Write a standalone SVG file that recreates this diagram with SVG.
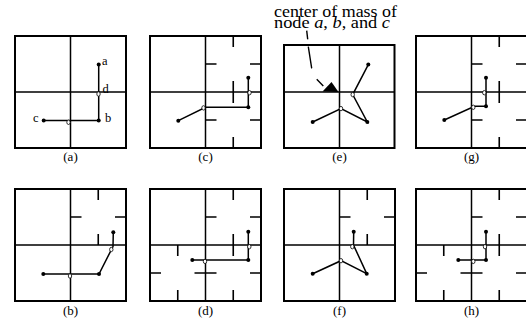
<svg xmlns="http://www.w3.org/2000/svg" width="526" height="324" viewBox="0 0 526 324">
<style>
.frame{fill:none;stroke:#000;stroke-width:2}
.div{fill:none;stroke:#000;stroke-width:1.5}
.tick{fill:none;stroke:#000;stroke-width:1.6}
.edge{fill:none;stroke:#000;stroke-width:1.5}
.dot{fill:#000}
.com{fill:#fff;stroke:#000;stroke-width:0.8}
.cap{font-family:"Liberation Serif","Times New Roman",serif;font-size:13px;text-anchor:middle}
.lbl{font-family:"Liberation Serif","Times New Roman",serif;font-size:12.5px}
.note{font-family:"Liberation Serif","Times New Roman",serif;font-size:17px}
.arrow{fill:none;stroke:#000;stroke-width:1.4}
</style>
<rect width="526" height="324" fill="#fff"/>

<!-- (a) -->
<g id="panel-a">
<rect class="frame" x="15" y="36" width="111" height="112"/>
<path class="div" d="M70.5,36V148M15,92H126"/>
<g id="edges-a"><path class="edge" d="M98.7,64.5V120.5H43.7"/></g>
<g id="node-a-a"><circle class="dot" cx="98.7" cy="64.5" r="2"/><text class="lbl" x="102" y="64.5">a</text></g>
<g id="node-a-b"><circle class="dot" cx="98.7" cy="120.5" r="2"/><text class="lbl" x="105" y="122">b</text></g>
<g id="node-a-c"><circle class="dot" cx="43.7" cy="120.5" r="2"/><text class="lbl" x="33" y="122">c</text></g>
<g id="node-a-d"><ellipse class="com" cx="98.5" cy="94" rx="1.7" ry="2.2"/><text class="lbl" x="102.5" y="93">d</text></g>
<g id="node-a-m"><ellipse class="com" cx="68.5" cy="122.3" rx="1.7" ry="2.2"/></g>
<text class="cap" x="70.5" y="161">(a)</text>
</g>

<!-- (b) -->
<g id="panel-b">
<rect class="frame" x="15" y="189" width="111" height="112"/>
<path class="div" d="M70.5,189V301M15,245H126"/>
<path class="tick" d="M98.25,189v11M98.25,245v-11M70.5,217h11M126,217h-11"/>
<g id="edges-b"><path class="edge" d="M113.3,232.3L113,246.5L99,274H43.3"/></g>
<g id="node-b-1"><circle class="dot" cx="113.3" cy="232.3" r="2"/></g>
<g id="node-b-2"><circle class="dot" cx="99" cy="274" r="2"/></g>
<g id="node-b-3"><circle class="dot" cx="43.3" cy="274" r="2"/></g>
<g id="node-b-4"><ellipse class="com" cx="111.3" cy="249.5" rx="1.7" ry="2.2"/></g>
<g id="node-b-5"><ellipse class="com" cx="70" cy="276" rx="1.7" ry="2.2"/></g>
<text class="cap" x="70.5" y="315">(b)</text>
</g>

<!-- (c) -->
<g id="panel-c">
<rect class="frame" x="150" y="36" width="111" height="112"/>
<path class="div" d="M205.5,36V148M150,92H261"/>
<path class="tick" d="M233.25,36v11M233.25,92v-11M205.5,64h11M261,64h-11"/>
<path class="tick" d="M233.25,92v11M233.25,148v-11M205.5,120h11M261,120h-11"/>
<g id="edges-c"><path class="edge" d="M248.3,77.7V107.3H205.5L178.3,120.7"/></g>
<g id="node-c-1"><circle class="dot" cx="248.3" cy="77.7" r="2"/></g>
<g id="node-c-2"><circle class="dot" cx="248.3" cy="107.3" r="2"/></g>
<g id="node-c-3"><circle class="dot" cx="178.3" cy="120.7" r="2"/></g>
<g id="node-c-4"><ellipse class="com" cx="249.5" cy="92.7" rx="1.7" ry="2.2"/></g>
<g id="node-c-5"><ellipse class="com" cx="203.5" cy="107.9" rx="1.7" ry="2.2"/></g>
<text class="cap" x="205.5" y="161">(c)</text>
</g>

<!-- (d) -->
<g id="panel-d">
<rect class="frame" x="150" y="189" width="111" height="112"/>
<path class="div" d="M205.5,189V301M150,245H261"/>
<path class="tick" d="M233.25,189v11M233.25,245v-11M205.5,217h11M261,217h-11"/>
<path class="tick" d="M233.25,245v11M233.25,301v-11M205.5,273h11M261,273h-11"/>
<path class="tick" d="M177.75,245v11M177.75,301v-11M150,273h11M205.5,273h-11"/>
<g id="edges-d"><path class="edge" d="M248.3,231.7V260H192.3"/></g>
<g id="node-d-1"><circle class="dot" cx="248.3" cy="231.7" r="2"/></g>
<g id="node-d-2"><circle class="dot" cx="248.3" cy="260" r="2"/></g>
<g id="node-d-3"><circle class="dot" cx="192.3" cy="260" r="2"/></g>
<g id="node-d-4"><ellipse class="com" cx="249.3" cy="246.7" rx="1.7" ry="2.2"/></g>
<g id="node-d-5"><ellipse class="com" cx="205" cy="261.4" rx="1.7" ry="2.2"/></g>
<text class="cap" x="205.5" y="315">(d)</text>
</g>

<!-- (e) -->
<g id="panel-e">
<rect class="frame" x="284" y="45" width="110.5" height="103"/>
<path class="div" d="M339.5,45V148M284,92H394.5"/>
<g id="edges-e"><path class="edge" d="M368.3,64.6L352.7,94.6L367.3,122L341,108.6L312.7,122"/></g>
<g id="node-e-1"><circle class="dot" cx="368.3" cy="64.6" r="2"/></g>
<g id="node-e-2"><circle class="dot" cx="367.3" cy="122" r="2"/></g>
<g id="node-e-3"><circle class="dot" cx="312.7" cy="122" r="2"/></g>
<g id="node-e-4"><ellipse class="com" cx="352.7" cy="94.6" rx="1.7" ry="2.2"/></g>
<g id="node-e-5"><ellipse class="com" cx="341" cy="108.6" rx="1.7" ry="2.2"/></g>
<text class="cap" x="339.5" y="161">(e)</text>
</g>

<!-- annotation -->
<g id="note">
<text class="note" x="274" y="17" textLength="123" lengthAdjust="spacingAndGlyphs">center of mass of</text>
<text class="note" x="274" y="27.5" textLength="116" lengthAdjust="spacingAndGlyphs">node <tspan font-style="italic">a</tspan>, <tspan font-style="italic">b</tspan>, and <tspan font-style="italic">c</tspan></text>
<path class="arrow" d="M306.7,30.7L307.7,39.3L308.3,46.7L311.7,68.3L316.7,79.3L323.3,86" stroke-dasharray="8.66 7.43 21.9 12.1 9.4 100"/>
<path d="M322.5,91.5L331.5,82L338.5,92Z" fill="#000"/>
</g>

<!-- (f) -->
<g id="panel-f">
<rect class="frame" x="284" y="189" width="111" height="112"/>
<path class="div" d="M339.5,189V301M284,245H395"/>
<path class="tick" d="M367.25,189v11M367.25,245v-11M339.5,217h11M395,217h-11"/>
<g id="edges-f"><path class="edge" d="M353.7,231.7L353.5,245L366.7,273.7L341,260.7L312.7,273.7"/></g>
<g id="node-f-1"><circle class="dot" cx="353.7" cy="231.7" r="2"/></g>
<g id="node-f-2"><circle class="dot" cx="366.7" cy="273.7" r="2"/></g>
<g id="node-f-3"><circle class="dot" cx="312.7" cy="273.7" r="2"/></g>
<g id="node-f-4"><ellipse class="com" cx="352.3" cy="246.7" rx="1.7" ry="2.2"/></g>
<g id="node-f-5"><ellipse class="com" cx="341" cy="260.7" rx="1.7" ry="2.2"/></g>
<text class="cap" x="339.5" y="315">(f)</text>
</g>

<!-- (g) -->
<g id="panel-g">
<rect class="frame" x="416" y="36" width="111" height="112"/>
<path class="div" d="M471.5,36V148M416,92H527"/>
<path class="tick" d="M499.25,36v11M499.25,92v-11M471.5,64h11M527,64h-11"/>
<path class="tick" d="M499.25,92v11M499.25,148v-11M471.5,120h11M527,120h-11"/>
<g id="edges-g"><path class="edge" d="M486,77.7V106.3H474.5L444.3,120"/></g>
<g id="node-g-1"><circle class="dot" cx="486" cy="77.7" r="2"/></g>
<g id="node-g-2"><circle class="dot" cx="486" cy="106.3" r="2"/></g>
<g id="node-g-3"><circle class="dot" cx="444.3" cy="120" r="2"/></g>
<g id="node-g-4"><ellipse class="com" cx="484.3" cy="92.7" rx="1.7" ry="2.2"/></g>
<g id="node-g-5"><ellipse class="com" cx="473.3" cy="107.3" rx="1.7" ry="2.2"/></g>
<text class="cap" x="471.5" y="161">(g)</text>
</g>

<!-- (h) -->
<g id="panel-h">
<rect class="frame" x="416" y="189" width="111" height="112"/>
<path class="div" d="M471.5,189V301M416,245H527"/>
<path class="tick" d="M499.25,189v11M499.25,245v-11M471.5,217h11M527,217h-11"/>
<path class="tick" d="M499.25,245v11M499.25,301v-11M471.5,273h11M527,273h-11"/>
<path class="tick" d="M443.75,245v11M443.75,301v-11M416,273h11M471.5,273h-11"/>
<g id="edges-h"><path class="edge" d="M486,231.7V260H458.3"/></g>
<g id="node-h-1"><circle class="dot" cx="486" cy="231.7" r="2"/></g>
<g id="node-h-2"><circle class="dot" cx="486" cy="260" r="2"/></g>
<g id="node-h-3"><circle class="dot" cx="458.3" cy="260" r="2"/></g>
<g id="node-h-4"><ellipse class="com" cx="485" cy="246.7" rx="1.7" ry="2.2"/></g>
<g id="node-h-5"><ellipse class="com" cx="473.3" cy="261.4" rx="1.7" ry="2.2"/></g>
<text class="cap" x="471.5" y="315">(h)</text>
</g>
</svg>
